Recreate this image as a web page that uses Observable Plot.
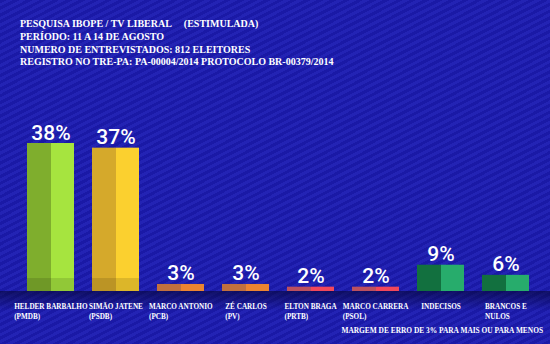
<!DOCTYPE html>
<html>
<head>
<meta charset="utf-8">
<script src="https://cdn.jsdelivr.net/npm/d3@7"></script>
<script src="https://cdn.jsdelivr.net/npm/@observablehq/plot@0.6"></script>
<style>
  html, body { margin: 0; padding: 0; }
  body {
    width: 550px; height: 344px; overflow: hidden; position: relative;
    background-color: #1a19a6;
    background-image: repeating-linear-gradient(153deg, #1a19a6 0px, #1a19a6 3px, #2323b4 3px, #2323b4 6px);
    font-family: "Liberation Serif", "DejaVu Serif", serif;
    color: #fff;
  }
  #header {
    height: 72px; box-sizing: border-box; padding: 18px 0 0 20px;
    font-weight: bold; font-size: 10px; line-height: 12.8px; white-space: pre;
  }
  #shadow {
    position: absolute; left: 0; top: 291px; width: 550px; height: 20px;
    background: linear-gradient(to bottom, rgba(5,5,50,0.6), rgba(5,5,50,0));
  }
  #chart { position: relative; }
  #caption {
    position: absolute; right: 7px; top: 326px;
    font-weight: bold; font-size: 7.4px; white-space: pre;
  }
</style>
</head>
<body>
<div id="header"></div>
<div id="shadow"></div>
<div id="chart"></div>
<div id="caption"></div>
<script>
const titleLines = [
  "PESQUISA IBOPE / TV LIBERAL     (ESTIMULADA)",
  "PERÍODO: 11 A 14 DE AGOSTO",
  "NUMERO DE ENTREVISTADOS: 812 ELEITORES",
  "REGISTRO NO TRE-PA: PA-00004/2014 PROTOCOLO BR-00379/2014"
];
const captionText = "MARGEM DE ERRO DE 3% PARA MAIS OU PARA MENOS";

const categories = ["Helder", "Simão", "Marco Antonio", "Zé Carlos", "Elton", "Marco Carrera", "Indecisos", "Brancos"];
const labels = [
  "HELDER BARBALHO\n(PMDB)",
  "SIMÃO JATENE\n(PSDB)",
  "MARCO ANTONIO\n(PCB)",
  "ZÉ CARLOS\n(PV)",
  "ELTON BRAGA\n(PRTB)",
  "MARCO CARRERA\n(PSOL)",
  "INDECISOS",
  "BRANCOS E\nNULOS"
];
const values = [38, 37, 3, 3, 2, 2, 9, 6];
const lightColors = ["#a6e43f", "#fbd02f", "#ec8431", "#ec8431", "#f2475b", "#f2475b", "#27ac6c", "#27ac6c"];
const darkColors  = ["#7fae2d", "#d5a92b", "#c2703e", "#c2703e", "#bc505f", "#bc505f", "#12703f", "#12703f"];

document.getElementById("header").textContent = titleLines.join("\n");
document.getElementById("caption").textContent = captionText;

const data = categories.map((c, i) => ({
  cat: c, label: labels[i], value: values[i],
  light: lightColors[i], dark: darkColors[i]
}));

const labelFont = "'Liberation Serif', 'DejaVu Serif', serif";
const labelSize = 7.2;

const plot = Plot.plot({
  width: 550,
  height: 272,
  marginLeft: 23,
  marginRight: 17,
  marginTop: 71,
  marginBottom: 53,
  style: { background: "transparent", overflow: "visible" },
  x: { domain: categories, paddingInner: 0.27, paddingOuter: 0, axis: null },
  y: { type: "pow", exponent: 1.2, domain: [0, 38], axis: null },
  marks: [
    Plot.barY(data, { x: "cat", y: "value", fill: "dark", insetRight: 23 }),
    Plot.barY(data, { x: "cat", y: "value", fill: "light", insetLeft: 24 }),
    Plot.rectY(data.filter(d => d.value > 10), { x: "cat", y1: 0, y2: 5, fill: "#000", fillOpacity: 0.12 }),
    Plot.text(data, {
      x: "cat", y: "value", text: d => d.value + "%",
      dy: -4, lineAnchor: "bottom", fill: "#fff",
      fontSize: 21, fontWeight: 500,
      fontFamily: "Roboto, 'Open Sans', sans-serif"
    }),
    Plot.text(data, {
      x: "cat", y: 0, text: "label",
      dy: 10, lineAnchor: "top", textAnchor: "start", lineHeight: 1.4,
      fill: "#fff", fontSize: labelSize, fontWeight: "bold",
      fontFamily: labelFont
    })
  ]
});
document.getElementById("chart").appendChild(plot);

// center each left-aligned label block under its bar
const ctx = document.createElement("canvas").getContext("2d");
ctx.font = `bold ${labelSize}px 'Liberation Serif'`;
plot.querySelectorAll("text").forEach(t => {
  const content = t.textContent;
  const lbl = labels.find(l => l.replace(/\n/g, "") === content);
  if (!lbl) return;
  let w = 0;
  try { w = t.getBBox().width; } catch (e) { w = 0; }
  if (!w) w = Math.max(...lbl.split("\n").map(s => ctx.measureText(s).width));
  t.setAttribute("transform", (t.getAttribute("transform") || "") + ` translate(${(-w / 2).toFixed(1)},0)`);
});
</script>
</body>
</html>
